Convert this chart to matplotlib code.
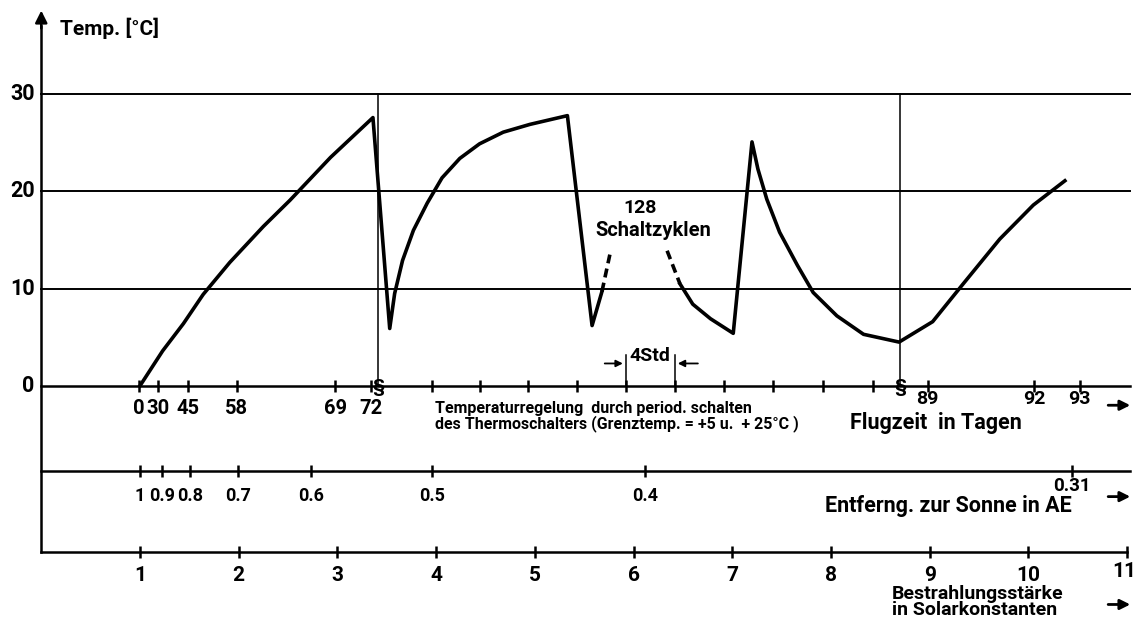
import matplotlib.pyplot as plt
import numpy as np

plt.rcParams['font.family'] = ['Roboto', 'DejaVu Sans']
plt.rcParams['font.weight'] = 'bold'

# temperature curve (x in units of the Bestrahlungsstaerke scale, y in degC)
curve1_x = [1.00, 1.23, 1.44, 1.64, 1.91, 2.25, 2.52, 2.93, 3.36, 3.53, 3.58, 3.66,
            3.77, 3.91, 4.06, 4.24, 4.44, 4.68, 4.95, 5.33, 5.58, 5.68]
curve1_t = [0.0, 3.6, 6.4, 9.4, 12.7, 16.4, 19.1, 23.5, 27.6, 5.9, 9.5, 12.9,
            16.0, 18.8, 21.4, 23.4, 24.9, 26.1, 26.9, 27.8, 6.2, 9.7]
dash1_x = [5.68, 5.76]
dash1_t = [9.7, 13.5]
dash2_x = [6.34, 6.47]
dash2_t = [13.9, 10.5]
curve2_x = [6.47, 6.60, 6.78, 7.01, 7.20, 7.26, 7.35, 7.48, 7.66, 7.82, 8.06, 8.33,
            8.69, 9.03, 9.34, 9.71, 10.05, 10.37]
curve2_t = [10.5, 8.4, 6.9, 5.4, 25.1, 22.3, 19.2, 15.8, 12.4, 9.6, 7.2, 5.3,
            4.5, 6.6, 10.5, 15.1, 18.6, 21.1]

temp_ticks = [0, 10, 20, 30]

# Flugzeit axis
day_pos = [0.99, 1.18, 1.49, 1.98, 2.98, 3.34, 3.96, 4.44, 4.93, 5.43, 5.92,
           6.42, 6.92, 7.41, 7.92, 8.43, 8.98, 10.06, 10.52]
day_lab = ['0', '30', '45', '58', '69', '72', '', '', '', '', '', '', '', '', '', '',
           '89', '92', '93']
breaks_x = [3.41, 8.70]

# Entfernung zur Sonne
dist_pos = [1.00, 1.22, 1.51, 1.99, 2.73, 3.96, 6.12, 10.44]
dist_lab = ['1', '0.9', '0.8', '0.7', '0.6', '0.5', '0.4', '0.31']

# Bestrahlungsstaerke
sol_vals = [1, 2, 3, 4, 5, 6, 7, 8, 9, 10, 11]

y_dist = -8.8
y_sol = -17.1
x_end = 11.03

fig = plt.figure(figsize=(11.35, 6.21), dpi=100)
ax = fig.add_axes([0, 0, 1, 1])
ax.set_xlim(-0.418, 11.08)
ax.set_ylim(-24.2, 39.7)
ax.axis('off')

lw_axis = 1.8
# grid lines
for t in temp_ticks[1:]:
    ax.plot([0, x_end], [t, t], color='black', lw=1.4)
    ax.text(-0.19, t, str(t), ha='center', va='center', fontsize=15.5)
ax.text(-0.13, 0, '0', ha='center', va='center', fontsize=15.5)

# vertical axis with arrow
ax.plot([0, 0], [y_sol, 37], color='black', lw=lw_axis)
ax.annotate('', xy=(0, 38.9), xytext=(0, 36.5),
            arrowprops=dict(arrowstyle='-|>', color='black', lw=lw_axis,
                            mutation_scale=18))
ax.text(0.19, 36.8, 'Temp. [°C]', ha='left', va='center', fontsize=15)

# Flugzeit axis
ax.plot([0, x_end], [0, 0], color='black', lw=lw_axis)
ax.plot(day_pos, [0] * len(day_pos), '|', color='black', ms=8, mew=1.8)
for p, l in zip(day_pos[:6], day_lab[:6]):
    ax.text(p, -2.3, l, ha='center', va='center', fontsize=14.5)
for p, l in zip(day_pos[16:], day_lab[16:]):
    ax.text(p, -1.35, l, ha='center', va='center', fontsize=14)
for b in breaks_x:
    ax.plot([b, b], [0, 30], color='black', lw=1.1)
    ax.text(b, -0.1, '§', ha='center', va='center', fontsize=14, fontweight='bold')

# curve
ax.plot(curve1_x, curve1_t, color='black', lw=2.6, solid_joinstyle='round')
ax.plot(curve2_x, curve2_t, color='black', lw=2.6, solid_joinstyle='round')
ax.plot(dash1_x, dash1_t, color='black', lw=2.6, ls=(0, (2.5, 1.5)))
ax.plot(dash2_x, dash2_t, color='black', lw=2.6, ls=(0, (2.5, 1.5)))
ax.text(6.07, 18.3, '128', ha='center', va='center', fontsize=14)
ax.text(6.20, 16.0, 'Schaltzyklen', ha='center', va='center', fontsize=14.5)

# 4 Std marker
for p in [5.92, 6.42]:
    ax.plot([p, p], [0, 3.2], color='black', lw=1.1)
ax.annotate('', xy=(5.92, 2.3), xytext=(5.68, 2.3),
            arrowprops=dict(arrowstyle='-|>', color='black', lw=1.3, mutation_scale=10))
ax.annotate('', xy=(6.42, 2.3), xytext=(6.68, 2.3),
            arrowprops=dict(arrowstyle='-|>', color='black', lw=1.3, mutation_scale=10))
ax.text(6.17, 3.1, '4Std', ha='center', va='center', fontsize=14)

ax.text(3.99, -2.3, 'Temperaturregelung  durch period. schalten',
        ha='left', va='center', fontsize=11.5)
ax.text(3.99, -3.9, 'des Thermoschalters (Grenztemp. = +5 u.  + 25°C )',
        ha='left', va='center', fontsize=11.5)
ax.text(8.19, -3.85, 'Flugzeit  in Tagen', ha='left', va='center', fontsize=15.5)

# Entfernung axis
ax.plot([0, x_end], [y_dist, y_dist], color='black', lw=lw_axis)
ax.plot(dist_pos, [y_dist] * len(dist_pos), '|', color='black', ms=8, mew=1.8)
for p, l in zip(dist_pos[:-1], dist_lab[:-1]):
    ax.text(p, y_dist - 2.5, l, ha='center', va='center', fontsize=13)
ax.text(dist_pos[-1], y_dist - 1.5, dist_lab[-1], ha='center', va='center', fontsize=13.5)
ax.text(10.44, y_dist - 3.6, 'Entferng. zur Sonne in AE', ha='right', va='center',
        fontsize=15.5)

# Bestrahlungsstaerke axis
ax.plot([0, 11], [y_sol, y_sol], color='black', lw=lw_axis)
ax.plot(sol_vals, [y_sol] * len(sol_vals), '|', color='black', ms=8, mew=1.8)
for v in sol_vals[:-1]:
    ax.text(v, y_sol - 2.4, str(v), ha='center', va='center', fontsize=15)
ax.text(10.97, y_sol - 2.0, str(sol_vals[-1]), ha='center', va='center', fontsize=15)
ax.text(8.62, -21.4, 'Bestrahlungsstärke', ha='left', va='center', fontsize=14)
ax.text(8.62, -23.1, 'in Solarkonstanten', ha='left', va='center', fontsize=14)

# arrows at right
for y in [-2.0, y_dist - 2.6, -22.5]:
    ax.annotate('', xy=(11.06, y), xytext=(10.78, y),
                arrowprops=dict(arrowstyle='-|>', color='black', lw=2.0, mutation_scale=15))

fig.savefig('out.png', dpi=100, facecolor='white')
